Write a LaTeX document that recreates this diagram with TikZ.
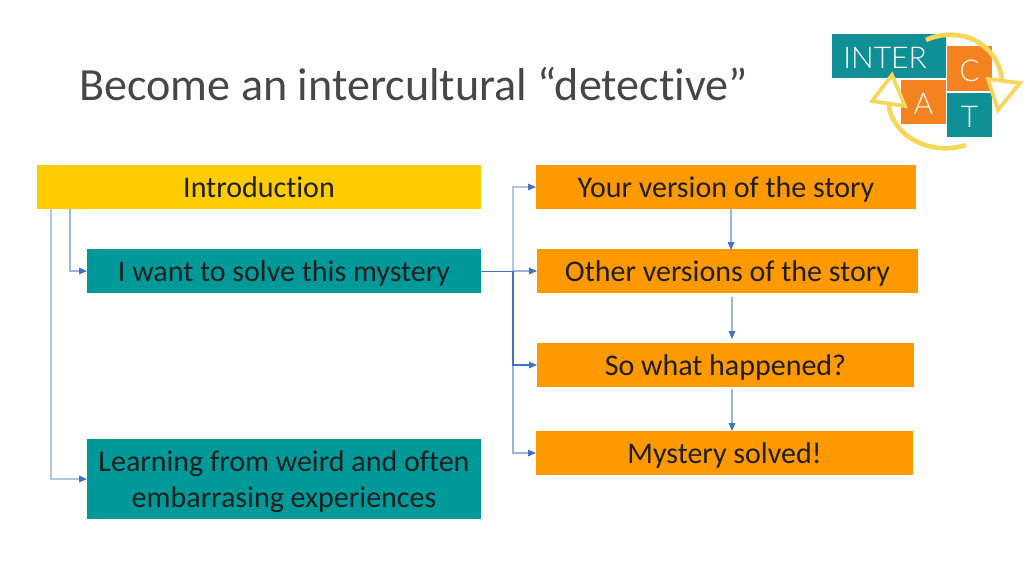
\documentclass[tikz,border=0pt]{standalone}
\usepackage{fontspec}
\setmainfont[Ligatures=NoCommon]{Carlito}
\newfontfamily\logofont{Lato Light}
\usetikzlibrary{arrows.meta}
\definecolor{tealbox}{HTML}{009999}
\definecolor{orangebox}{HTML}{FF9900}
\definecolor{yellowbox}{HTML}{FFCC00}
\definecolor{linkblue}{HTML}{4472C4}
\definecolor{linklight}{HTML}{9DB2E0}
\definecolor{linkpale}{HTML}{B4C4E8}
\definecolor{logoteal}{HTML}{0F8F96}
\definecolor{logoorange}{HTML}{F58220}
\definecolor{logoyellow}{HTML}{F6D75A}
\tikzset{
  box/.style={inner sep=0pt,outer sep=0pt,align=center,text=black!88,font=\fontsize{22.5}{27}\selectfont},
  oneline/.style={box,text height=18pt,text depth=2.5pt},
  tealnode/.style={oneline,fill=tealbox},
  tealtwo/.style={box,fill=tealbox},
  orangenode/.style={oneline,fill=orangebox},
  yellownode/.style={oneline,fill=yellowbox},
  link/.style={draw=linklight,line width=0.8pt,-{Triangle[length=6pt,width=5pt,color=linkblue]}},
  linkdark/.style={draw=linkblue,line width=0.7pt},
  logobox/.style={inner sep=0pt,outer sep=0pt,text=white,font=\logofont\fontsize{22.5}{22}\selectfont,text height=19pt,text depth=0pt},
  logoarc/.style={draw=logoyellow,line width=3.5pt,line cap=butt},
  logotip/.style={draw=logoyellow,line width=2.8pt,fill=white,line join=miter},
}
\begin{document}
\begin{tikzpicture}[x=0.75pt,y=-0.75pt]
\useasboundingbox (0,0) rectangle (1024,576);
\node[anchor=west,inner sep=0pt,text=black!72,font=\fontsize{34.6}{40}\selectfont] (title) at (79,84) {Become an intercultural “detective”};

\node[yellownode,minimum width=333pt,minimum height=33pt,anchor=north west] (intro) at (37,165) {Introduction};
\node[tealnode,minimum width=295.5pt,minimum height=33pt,anchor=north west] (want) at (87,249) {I want to solve this mystery};
\node[tealtwo,minimum width=295.5pt,minimum height=60pt,anchor=north west] (learn) at (87,439) {\rule{0pt}{19.5pt}Learning from weird and often\\embarrasing experiences};
\node[orangenode,minimum width=285pt,minimum height=33pt,anchor=north west] (yours) at (536,165) {Your version of the story};
\node[orangenode,minimum width=285.75pt,minimum height=33pt,anchor=north west] (others) at (537,249) {Other versions of the story};
\node[orangenode,minimum width=282.75pt,minimum height=33pt,anchor=north west] (happened) at (537,343) {So what happened?};
\node[orangenode,minimum width=282.75pt,minimum height=33pt,anchor=north west] (solved) at (536,431) {Mystery solved!};

% connector junctions
\coordinate (introA) at (51,209);
\coordinate (introB) at (70,209);
\coordinate (busTop) at (513,271);

\draw[link,draw=linkpale] (introA) |- (learn.west);
\draw[link] (introB) |- (want.west);
\draw[link,draw=linkpale] (busTop) |- (yours.west);
\draw[link] (busTop) -- (others.west);
\draw[link] (busTop) |- (solved.west);
\draw[link,draw=linkblue] (busTop) |- (happened.west);
\draw[linkdark] (want.east) -- (busTop);
\draw[link] (731,209) -- (731,250);
\draw[link] (732,297) -- (732,339);
\draw[link] (732,389) -- (732,431);

% logo
\node[logobox,fill=logoteal,minimum width=85.5pt,minimum height=33pt,anchor=north west] (linter) at (832,34) {INTER\hspace*{6pt}};
\node[logobox,fill=logoorange,minimum width=33.75pt,minimum height=33.75pt,anchor=north west] (lc) at (947,46) {C};
\node[logobox,fill=logoorange,minimum width=33.75pt,minimum height=33pt,anchor=north west] (la) at (901,80) {A};
\node[logobox,fill=logoteal,minimum width=33.75pt,minimum height=33pt,anchor=north west] (lt) at (947,93) {T};
\draw[logoarc] (926,40) .. controls (945,31) and (972,33) .. (988,50) .. controls (998,60) and (1002,72) .. (1002,84);
\draw[logoarc] (966,145) .. controls (945,152) and (918,148) .. (901,130) .. controls (892,120) and (889,112) .. (889,103);
\draw[logotip] (1020,83) -- (988,79) -- (998,110) -- cycle;
\draw[logotip] (892,75) -- (872,101) -- (905,106) -- cycle;
\end{tikzpicture}
\end{document}
